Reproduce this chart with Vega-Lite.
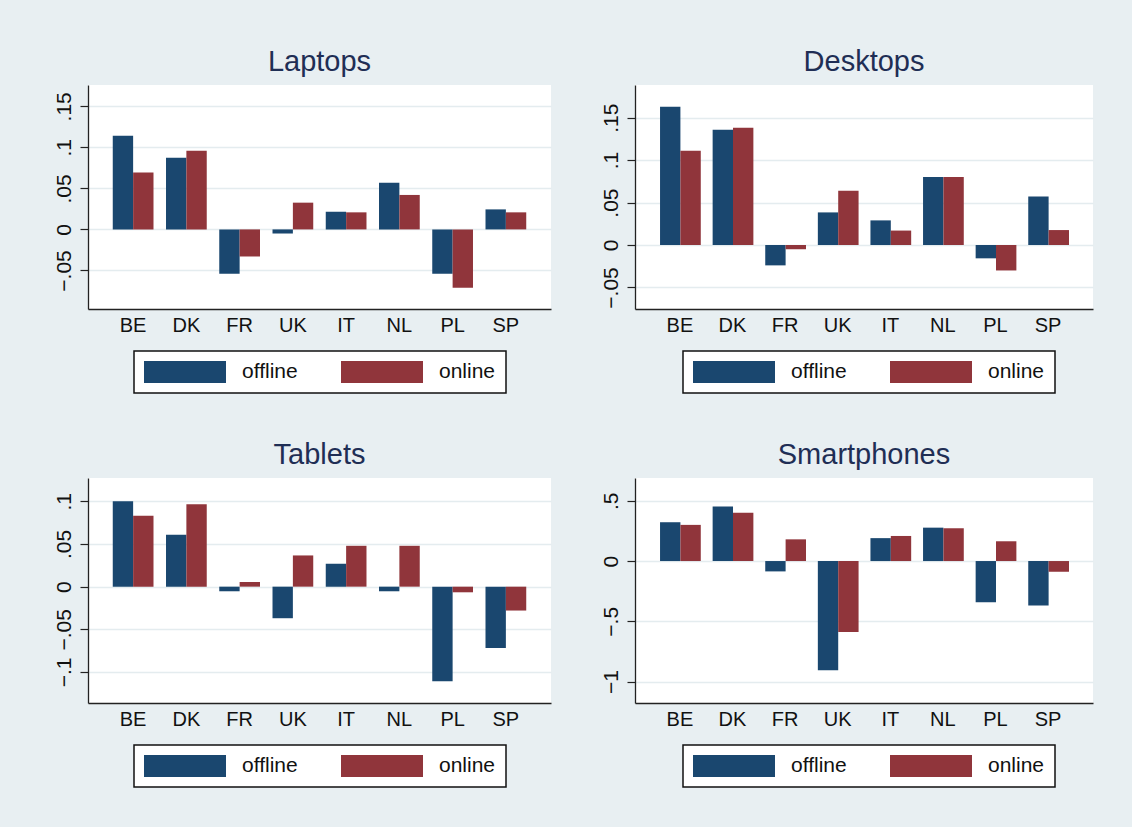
{
  "$schema": "https://vega.github.io/schema/vega-lite/v6.json",
  "background": "#E8EFF2",
  "padding": {"left": 53, "top": 48, "right": 39, "bottom": 40},
  "bounds": "flush",
  "columns": 2,
  "spacing": {"row": 169, "column": 84},
  "resolve": {"scale": {"color": "independent", "x": "independent", "y": "independent"}, "legend": {"color": "independent"}},
  "datasets": {
    "d": [
      {"product": "Laptops", "country": "BE", "mode": "offline", "value": 0.114},
      {"product": "Laptops", "country": "BE", "mode": "online", "value": 0.0695},
      {"product": "Laptops", "country": "DK", "mode": "offline", "value": 0.0874},
      {"product": "Laptops", "country": "DK", "mode": "online", "value": 0.096},
      {"product": "Laptops", "country": "FR", "mode": "offline", "value": -0.054},
      {"product": "Laptops", "country": "FR", "mode": "online", "value": -0.033},
      {"product": "Laptops", "country": "UK", "mode": "offline", "value": -0.005},
      {"product": "Laptops", "country": "UK", "mode": "online", "value": 0.0326},
      {"product": "Laptops", "country": "IT", "mode": "offline", "value": 0.0216},
      {"product": "Laptops", "country": "IT", "mode": "online", "value": 0.0208},
      {"product": "Laptops", "country": "NL", "mode": "offline", "value": 0.057},
      {"product": "Laptops", "country": "NL", "mode": "online", "value": 0.042},
      {"product": "Laptops", "country": "PL", "mode": "offline", "value": -0.054},
      {"product": "Laptops", "country": "PL", "mode": "online", "value": -0.071},
      {"product": "Laptops", "country": "SP", "mode": "offline", "value": 0.0244},
      {"product": "Laptops", "country": "SP", "mode": "online", "value": 0.0208},
      {"product": "Desktops", "country": "BE", "mode": "offline", "value": 0.163},
      {"product": "Desktops", "country": "BE", "mode": "online", "value": 0.111},
      {"product": "Desktops", "country": "DK", "mode": "offline", "value": 0.1357},
      {"product": "Desktops", "country": "DK", "mode": "online", "value": 0.138},
      {"product": "Desktops", "country": "FR", "mode": "offline", "value": -0.024},
      {"product": "Desktops", "country": "FR", "mode": "online", "value": -0.005},
      {"product": "Desktops", "country": "UK", "mode": "offline", "value": 0.0384},
      {"product": "Desktops", "country": "UK", "mode": "online", "value": 0.064},
      {"product": "Desktops", "country": "IT", "mode": "offline", "value": 0.029},
      {"product": "Desktops", "country": "IT", "mode": "online", "value": 0.017},
      {"product": "Desktops", "country": "NL", "mode": "offline", "value": 0.08},
      {"product": "Desktops", "country": "NL", "mode": "online", "value": 0.08},
      {"product": "Desktops", "country": "PL", "mode": "offline", "value": -0.0157},
      {"product": "Desktops", "country": "PL", "mode": "online", "value": -0.03},
      {"product": "Desktops", "country": "SP", "mode": "offline", "value": 0.057},
      {"product": "Desktops", "country": "SP", "mode": "online", "value": 0.0176},
      {"product": "Tablets", "country": "BE", "mode": "offline", "value": 0.1},
      {"product": "Tablets", "country": "BE", "mode": "online", "value": 0.083},
      {"product": "Tablets", "country": "DK", "mode": "offline", "value": 0.061},
      {"product": "Tablets", "country": "DK", "mode": "online", "value": 0.0965},
      {"product": "Tablets", "country": "FR", "mode": "offline", "value": -0.0054},
      {"product": "Tablets", "country": "FR", "mode": "online", "value": 0.0055},
      {"product": "Tablets", "country": "UK", "mode": "offline", "value": -0.037},
      {"product": "Tablets", "country": "UK", "mode": "online", "value": 0.0366},
      {"product": "Tablets", "country": "IT", "mode": "offline", "value": 0.0268},
      {"product": "Tablets", "country": "IT", "mode": "online", "value": 0.0479},
      {"product": "Tablets", "country": "NL", "mode": "offline", "value": -0.0054},
      {"product": "Tablets", "country": "NL", "mode": "online", "value": 0.0479},
      {"product": "Tablets", "country": "PL", "mode": "offline", "value": -0.111},
      {"product": "Tablets", "country": "PL", "mode": "online", "value": -0.0066},
      {"product": "Tablets", "country": "SP", "mode": "offline", "value": -0.072},
      {"product": "Tablets", "country": "SP", "mode": "online", "value": -0.028},
      {"product": "Smartphones", "country": "BE", "mode": "offline", "value": 0.322},
      {"product": "Smartphones", "country": "BE", "mode": "online", "value": 0.3},
      {"product": "Smartphones", "country": "DK", "mode": "offline", "value": 0.452},
      {"product": "Smartphones", "country": "DK", "mode": "online", "value": 0.4},
      {"product": "Smartphones", "country": "FR", "mode": "offline", "value": -0.086},
      {"product": "Smartphones", "country": "FR", "mode": "online", "value": 0.18},
      {"product": "Smartphones", "country": "UK", "mode": "offline", "value": -0.906},
      {"product": "Smartphones", "country": "UK", "mode": "online", "value": -0.589},
      {"product": "Smartphones", "country": "IT", "mode": "offline", "value": 0.19},
      {"product": "Smartphones", "country": "IT", "mode": "online", "value": 0.208},
      {"product": "Smartphones", "country": "NL", "mode": "offline", "value": 0.277},
      {"product": "Smartphones", "country": "NL", "mode": "online", "value": 0.272},
      {"product": "Smartphones", "country": "PL", "mode": "offline", "value": -0.342},
      {"product": "Smartphones", "country": "PL", "mode": "online", "value": 0.164},
      {"product": "Smartphones", "country": "SP", "mode": "offline", "value": -0.37},
      {"product": "Smartphones", "country": "SP", "mode": "online", "value": -0.089}
    ]
  },
  "concat": [
    {
      "title": "Laptops",
      "width": 463, "height": 224,
      "data": {"name": "d"},
      "transform": [{"filter": "datum.product == 'Laptops'"}],
      "mark": {"type": "bar"},
      "encoding": {
        "x": {"field": "country", "type": "nominal", "sort": ["BE","DK","FR","UK","IT","NL","PL","SP"], "scale": {"paddingInner": 0.235, "paddingOuter": 0.465}, "axis": {"title": null}},
        "xOffset": {"field": "mode", "type": "nominal", "scale": {"paddingInner": 0, "paddingOuter": 0}},
        "y": {"field": "value", "type": "quantitative", "scale": {"domain": [-0.097, 0.176], "nice": false, "zero": false}, "axis": {"title": null, "values": [-0.05, 0, 0.05, 0.1, 0.15]}},
        "color": {"field": "mode", "type": "nominal", "scale": {"domain": ["offline","online"], "range": ["#1A476F","#90353B"]}, "legend": {"legendX": 46, "legendY": 266}}
      }
    },
    {
      "title": "Desktops",
      "width": 458, "height": 224,
      "data": {"name": "d"},
      "transform": [{"filter": "datum.product == 'Desktops'"}],
      "mark": {"type": "bar"},
      "encoding": {
        "x": {"field": "country", "type": "nominal", "sort": ["BE","DK","FR","UK","IT","NL","PL","SP"], "scale": {"paddingInner": 0.245, "paddingOuter": 0.476}, "axis": {"title": null}},
        "xOffset": {"field": "mode", "type": "nominal", "scale": {"paddingInner": 0, "paddingOuter": 0}},
        "y": {"field": "value", "type": "quantitative", "scale": {"domain": [-0.0754, 0.1885], "nice": false, "zero": false}, "axis": {"title": null, "values": [-0.05, 0, 0.05, 0.1, 0.15]}},
        "color": {"field": "mode", "type": "nominal", "scale": {"domain": ["offline","online"], "range": ["#1A476F","#90353B"]}, "legend": {"legendX": 48, "legendY": 266}}
      }
    },
    {
      "title": "Tablets",
      "width": 463, "height": 225,
      "data": {"name": "d"},
      "transform": [{"filter": "datum.product == 'Tablets'"}],
      "mark": {"type": "bar"},
      "encoding": {
        "x": {"field": "country", "type": "nominal", "sort": ["BE","DK","FR","UK","IT","NL","PL","SP"], "scale": {"paddingInner": 0.235, "paddingOuter": 0.465}, "axis": {"title": null}},
        "xOffset": {"field": "mode", "type": "nominal", "scale": {"paddingInner": 0, "paddingOuter": 0}},
        "y": {"field": "value", "type": "quantitative", "scale": {"domain": [-0.1364, 0.1274], "nice": false, "zero": false}, "axis": {"title": null, "values": [-0.1, -0.05, 0, 0.05, 0.1]}},
        "color": {"field": "mode", "type": "nominal", "scale": {"domain": ["offline","online"], "range": ["#1A476F","#90353B"]}, "legend": {"legendX": 46, "legendY": 267}}
      }
    },
    {
      "title": "Smartphones",
      "width": 458, "height": 225,
      "data": {"name": "d"},
      "transform": [{"filter": "datum.product == 'Smartphones'"}],
      "mark": {"type": "bar"},
      "encoding": {
        "x": {"field": "country", "type": "nominal", "sort": ["BE","DK","FR","UK","IT","NL","PL","SP"], "scale": {"paddingInner": 0.245, "paddingOuter": 0.476}, "axis": {"title": null}},
        "xOffset": {"field": "mode", "type": "nominal", "scale": {"paddingInner": 0, "paddingOuter": 0}},
        "y": {"field": "value", "type": "quantitative", "scale": {"domain": [-1.178, 0.689], "nice": false, "zero": false}, "axis": {"title": null, "values": [-1, -0.5, 0, 0.5]}},
        "color": {"field": "mode", "type": "nominal", "scale": {"domain": ["offline","online"], "range": ["#1A476F","#90353B"]}, "legend": {"legendX": 48, "legendY": 267}}
      }
    }
  ],
  "config": {
    "font": "Liberation Sans",
    "view": {"fill": "white", "stroke": null},
    "title": {"fontSize": 29, "fontWeight": "normal", "color": "#1F2E55", "baseline": "alphabetic", "offset": 8, "anchor": "middle"},
    "axis": {"labelFont": "Liberation Sans", "labelColor": "#111", "domainColor": "#222", "domainWidth": 1.3, "tickColor": "#222", "tickWidth": 1.2, "gridColor": "#E4ECEF", "gridWidth": 1.6},
    "axisX": {"ticks": false, "grid": false, "labelAngle": 0, "labelFontSize": 20, "labelPadding": 6, "labelBaseline": "top"},
    "axisY": {"grid": true, "tickSize": 8, "labelFontSize": 21, "labelAngle": 270, "labelAlign": "center", "labelBaseline": "bottom", "labelPadding": 6, "labelExpr": "datum.value == 0 ? '0' : replace(format(datum.value, '~g'), '0.', '.')"},
    "legend": {"orient": "none", "direction": "horizontal", "title": null, "symbolType": "M-1,-1H6.4545V1H-1Z", "symbolSize": 484, "symbolStrokeWidth": 0, "symbolOpacity": 1, "labelFontSize": 21, "labelFont": "Liberation Sans", "labelColor": "#111", "labelOffset": 76, "columnPadding": 43, "padding": 10, "strokeColor": "#111", "strokeWidth": 1.5, "fillColor": "#ffffff"}
  }
}
